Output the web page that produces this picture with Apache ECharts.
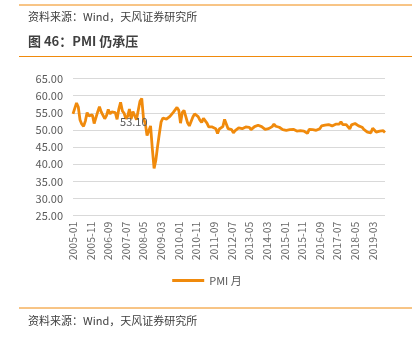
<!DOCTYPE html>
<html><head><meta charset="utf-8">
<script src="https://cdn.jsdelivr.net/npm/echarts@6/dist/echarts.min.js"></script>
<style>html,body{margin:0;padding:0;background:#fff}#c{width:414px;height:341px}</style>
</head><body><div id="c"></div>
<script>
// Monthly PMI, 2005-01 .. 2019-10
const pmi2005 = [54.7,54.5,57.9,56.7,52.9,51.7,51.1,52.6,55.1,54.1,54.1,54.4];
const pmi2006 = [51.9,52.0,55.3,56.8,55.3,54.8,53.3,54.2,56.0,54.7,55.3,54.8];
const pmi2007 = [55.1,53.1,56.1,58.1,55.6,54.9,53.3,54.0,56.1,53.2,55.4,55.3];
const pmi2008 = [53.0,53.4,58.4,59.2,53.3,52.0,48.4,48.4,51.2,44.6,38.8,41.2];
const pmi2009 = [45.3,49.0,52.4,53.5,53.1,53.2,53.3,54.0,54.3,55.2,55.2,56.6];
const pmi2010 = [55.8,52.0,55.1,55.7,53.9,52.1,51.2,51.7,53.8,54.7,55.2,53.9];
const pmi2011 = [52.9,52.2,53.4,52.9,52.0,50.9,50.7,50.9,51.2,50.4,49.0,50.3];
const pmi2012 = [50.5,51.0,53.1,53.3,50.4,50.2,50.1,49.2,49.8,50.2,50.6,50.6];
const pmi2013 = [50.4,50.1,50.9,50.6,50.8,50.1,50.3,51.0,51.1,51.4,51.4,51.0];
const pmi2014 = [50.5,50.2,50.3,50.4,50.8,51.0,51.7,51.1,51.1,50.8,50.3,50.1];
const pmi2015 = [49.8,49.9,50.1,50.1,50.2,50.2,50.0,49.7,49.8,49.8,49.6,49.7];
const pmi2016 = [49.4,49.0,50.2,50.1,50.1,50.0,49.9,50.4,50.4,51.2,51.7,51.4];
const pmi2017 = [51.3,51.6,51.8,51.2,51.2,51.7,51.4,51.7,52.4,51.6,51.8,51.6];
const pmi2018 = [51.3,50.3,51.5,51.4,51.9,51.5,51.2,51.3,50.8,50.2,50.0,49.4];
const pmi2019 = [49.5,49.2,50.5,50.1,49.4,49.4,49.7,49.5,49.8,49.3];
const yearly = [pmi2005,pmi2006,pmi2007,pmi2008,pmi2009,pmi2010,pmi2011,pmi2012,pmi2013,pmi2014,pmi2015,pmi2016,pmi2017,pmi2018,pmi2019];
const startYear = 2005;
const categories = [];
const values = [];
yearly.forEach((arr, i) => arr.forEach((v, m) => {
  categories.push((startYear + i) + '-' + String(m + 1).padStart(2, '0'));
  values.push(v);
}));
const labelledPoint = '2007-02';
const seriesName = 'PMI 月';
const titleText = '图 46：PMI 仍承压';
const sourceText = '资料来源：Wind，天风证券研究所';

const font = '"Noto Sans CJK SC", "Noto Sans", sans-serif';
const orange = '#F08A0C';
const chart = echarts.init(document.getElementById('c'), null, {renderer: 'canvas'});
chart.setOption({
  animation: false,
  textStyle: {fontFamily: font},
  grid: {left: 73, right: 29, top: 78.6, bottom: 125.3, containLabel: false},
  legend: {
    data: [seriesName], bottom: 50, left: 'center',
    itemWidth: 32, itemHeight: 3, icon: 'rect', itemGap: 3,
    textStyle: {color: '#595959', fontSize: 11, fontFamily: font}
  },
  xAxis: {
    type: 'category', data: categories, boundaryGap: false,
    axisLine: {show: false}, axisTick: {show: false},
    axisLabel: {interval: 9, rotate: 90, color: '#6a6a6a', fontSize: 10.5, margin: 6, fontFamily: font}
  },
  yAxis: {
    type: 'value', min: 25, max: 65, interval: 5,
    axisLine: {show: false}, axisTick: {show: false},
    axisLabel: {formatter: v => v.toFixed(2), color: '#595959', fontSize: 11, margin: 10, fontFamily: font},
    splitLine: {lineStyle: {color: '#D9D9D9', width: 1}}
  },
  series: [{
    name: seriesName, type: 'line',
    data: values.map((v, i) => categories[i] === labelledPoint ?
      {value: v, label: {show: true, position: 'right', distance: 3, offset: [0, 2], formatter: p => p.value.toFixed(2), color: '#595959', fontSize: 11, fontFamily: font}} : v),
    showSymbol: true, symbol: 'circle', symbolSize: 0.01,
    label: {show: false},
    lineStyle: {color: orange, width: 2.8}, itemStyle: {color: orange}
  }],
  graphic: [
    {type: 'line', shape: {x1: 19, y1: 5, x2: 412, y2: 5}, style: {stroke: orange, lineWidth: 1}},
    {type: 'text', left: 28, top: 11, style: {text: sourceText, fill: '#404040', fontSize: 11, fontFamily: font}},
    {type: 'text', left: 28, top: 35, style: {text: titleText, fill: '#404040', fontSize: 13, fontWeight: 'bold', fontFamily: font}},
    {type: 'line', shape: {x1: 19, y1: 56.5, x2: 412, y2: 56.5}, style: {stroke: orange, lineWidth: 1}},
    {type: 'line', shape: {x1: 19, y1: 308, x2: 412, y2: 308}, style: {stroke: orange, lineWidth: 1}},
    {type: 'text', left: 28, top: 315, style: {text: sourceText, fill: '#404040', fontSize: 11, fontFamily: font}}
  ]
});
</script></body></html>
